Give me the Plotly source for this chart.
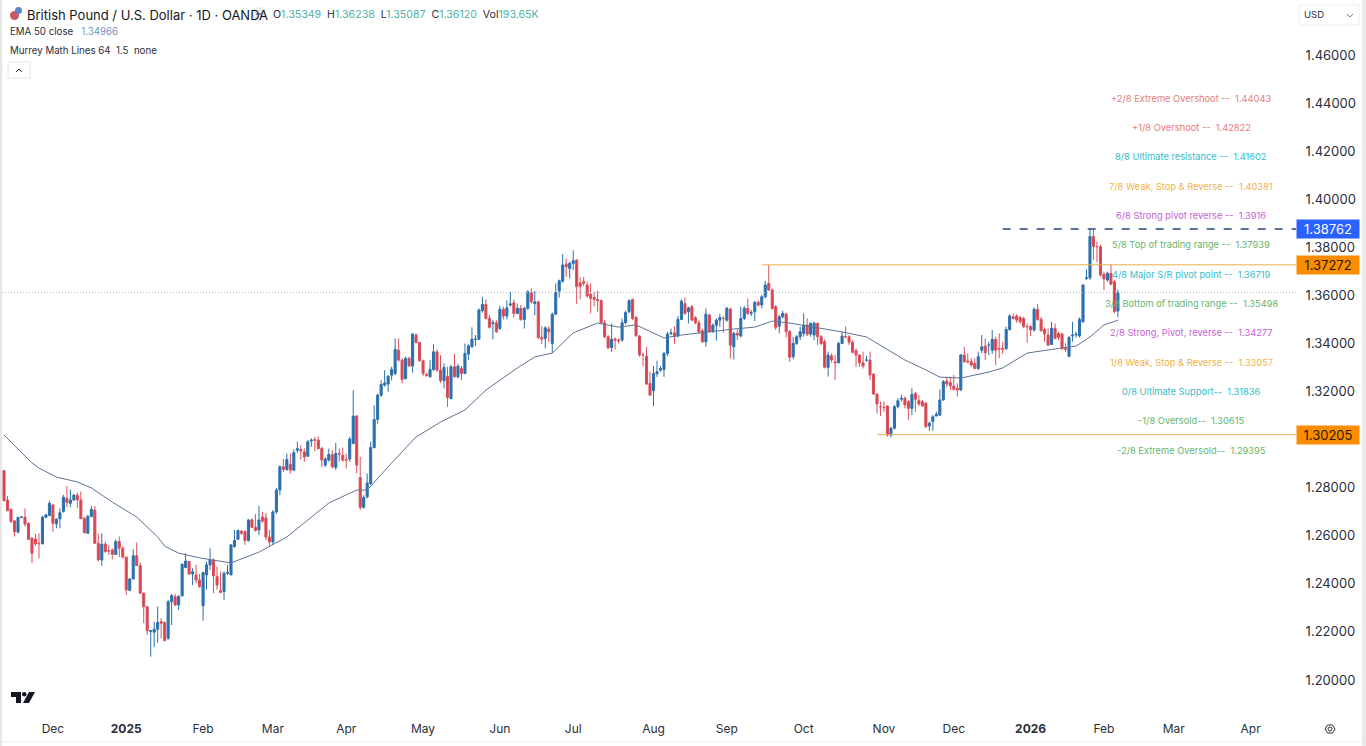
import pandas as pd
import plotly.graph_objects as go

holidays = ["2024-12-25", "2025-01-01", "2025-12-25", "2026-01-01"]
dates = [d for d in pd.bdate_range("2024-11-12", "2026-02-06") if d.strftime("%Y-%m-%d") not in holidays]

opens = [
    1.2871,1.2749,1.2710,1.2662,1.2615,1.2677,1.2677,1.2652,1.2590,1.2587,
    1.2569,1.2566,1.2677,1.2684,1.2728,1.2649,1.2670,1.2701,1.2756,1.2735,
    1.2749,1.2769,1.2749,1.2673,1.2610,1.2680,1.2707,1.2569,1.2499,1.2565,
    1.2538,1.2541,1.2522,1.2576,1.2548,1.2511,1.2372,1.2420,1.2517,1.2476,
    1.2361,1.2305,1.2201,1.2199,1.2211,1.2243,1.2239,1.2174,1.2326,1.2347,
    1.2312,1.2350,1.2468,1.2493,1.2441,1.2437,1.2416,1.2309,1.2437,1.2479,
    1.2499,1.2430,1.2372,1.2368,1.2444,1.2437,1.2555,1.2585,1.2619,1.2617,
    1.2580,1.2666,1.2635,1.2624,1.2678,1.2674,1.2595,1.2574,1.2699,1.2790,
    1.2887,1.2876,1.2897,1.2873,1.2956,1.2959,1.2949,1.2931,1.2994,1.2999,
    1.2998,1.2963,1.2894,1.2915,1.2938,1.2884,1.2942,1.2935,1.2917,1.2919,
    1.2984,1.3098,1.2842,1.2718,1.2762,1.2817,1.2967,1.3084,1.3185,1.3227,
    1.3231,1.3268,1.3275,1.3372,1.3331,1.3254,1.3338,1.3306,1.3435,1.3404,
    1.3328,1.3272,1.3261,1.3292,1.3365,1.3289,1.3245,1.3264,1.3171,1.3303,
    1.3261,1.3296,1.3275,1.3356,1.3386,1.3417,1.3417,1.3536,1.3562,1.3504,
    1.3483,1.3486,1.3462,1.3542,1.3514,1.3560,1.3569,1.3525,1.3546,1.3500,
    1.3546,1.3611,1.3566,1.3573,1.3425,1.3421,1.3460,1.3400,1.3522,1.3618,
    1.3659,1.3730,1.3712,1.3733,1.3747,1.3652,1.3657,1.3643,1.3605,1.3591,
    1.3583,1.3578,1.3486,1.3428,1.3383,1.3419,1.3414,1.3414,1.3486,1.3532,
    1.3583,1.3508,1.3431,1.3352,1.3347,1.3234,1.3203,1.3275,1.3289,1.3292,
    1.3358,1.3442,1.3444,1.3431,1.3500,1.3566,1.3532,1.3553,1.3507,1.3486,
    1.3453,1.3407,1.3518,1.3449,1.3476,1.3497,1.3504,1.3497,1.3543,1.3386,
    1.3442,1.3431,1.3504,1.3546,1.3525,1.3532,1.3571,1.3560,1.3594,1.3650,
    1.3622,1.3553,1.3472,1.3511,1.3522,1.3449,1.3345,1.3400,1.3428,1.3442,
    1.3477,1.3439,1.3435,1.3484,1.3428,1.3407,1.3301,1.3348,1.3324,1.3320,
    1.3400,1.3428,1.3428,1.3405,1.3370,1.3352,1.3320,1.3331,1.3331,1.3272,
    1.3190,1.3137,1.3134,1.3140,1.3019,1.3047,1.3137,1.3168,1.3172,1.3158,
    1.3130,1.3192,1.3162,1.3158,1.3151,1.3057,1.3075,1.3098,1.3102,1.3165,
    1.3244,1.3237,1.3223,1.3213,1.3206,1.3352,1.3327,1.3324,1.3317,1.3296,
    1.3372,1.3389,1.3393,1.3372,1.3417,1.3379,1.3379,1.3379,1.3458,1.3511,
    1.3514,1.3508,1.3504,1.3470,1.3470,1.3456,1.3542,1.3500,1.3458,1.3435,
    1.3396,1.3463,1.3442,1.3439,1.3379,1.3347,1.3431,1.3435,1.3431,1.3490,
    1.3671,1.3673,1.3845,1.3803,1.3803,1.3688,1.3664,1.3692,1.3657,1.3535,
]
highs = [
    1.2874,1.2766,1.2714,1.2666,1.2680,1.2683,1.2714,1.2656,1.2594,1.2608,
    1.2610,1.2683,1.2690,1.2746,1.2733,1.2673,1.2714,1.2770,1.2807,1.2793,
    1.2774,1.2780,1.2784,1.2677,1.2687,1.2724,1.2724,1.2608,1.2610,1.2576,
    1.2562,1.2548,1.2585,1.2597,1.2558,1.2513,1.2423,1.2544,1.2572,1.2488,
    1.2364,1.2308,1.2208,1.2243,1.2305,1.2257,1.2243,1.2333,1.2358,1.2358,
    1.2354,1.2486,1.2527,1.2495,1.2465,1.2479,1.2441,1.2451,1.2493,1.2548,
    1.2506,1.2472,1.2451,1.2451,1.2479,1.2566,1.2624,1.2627,1.2624,1.2624,
    1.2669,1.2673,1.2690,1.2724,1.2699,1.2695,1.2624,1.2707,1.2799,1.2894,
    1.2921,1.2942,1.2942,1.2959,1.2991,1.2977,1.2963,1.2998,1.3005,1.3012,
    1.3012,1.2970,1.2928,1.2963,1.2956,1.2987,1.2963,1.2967,1.2942,1.3012,
    1.3206,1.3102,1.2928,1.2769,1.2859,1.2991,1.3143,1.3192,1.3247,1.3289,
    1.3268,1.3303,1.3421,1.3421,1.3338,1.3345,1.3345,1.3442,1.3442,1.3407,
    1.3333,1.3278,1.3331,1.3397,1.3375,1.3351,1.3317,1.3303,1.3310,1.3356,
    1.3314,1.3306,1.3400,1.3397,1.3467,1.3435,1.3546,1.3594,1.3583,1.3518,
    1.3497,1.3497,1.3557,1.3553,1.3578,1.3615,1.3583,1.3566,1.3560,1.3553,
    1.3622,1.3629,1.3619,1.3578,1.3472,1.3472,1.3472,1.3528,1.3650,1.3666,
    1.3772,1.3754,1.3740,1.3788,1.3750,1.3675,1.3677,1.3657,1.3650,1.3615,
    1.3619,1.3583,1.3497,1.3435,1.3483,1.3425,1.3421,1.3504,1.3536,1.3583,
    1.3587,1.3514,1.3435,1.3361,1.3386,1.3282,1.3306,1.3328,1.3306,1.3365,
    1.3449,1.3462,1.3472,1.3514,1.3583,1.3591,1.3553,1.3560,1.3514,1.3497,
    1.3462,1.3546,1.3525,1.3483,1.3504,1.3522,1.3514,1.3553,1.3548,1.3449,
    1.3458,1.3553,1.3555,1.3587,1.3539,1.3576,1.3580,1.3601,1.3661,1.3726,
    1.3629,1.3560,1.3518,1.3536,1.3528,1.3456,1.3428,1.3435,1.3470,1.3525,
    1.3504,1.3486,1.3491,1.3486,1.3435,1.3417,1.3366,1.3359,1.3352,1.3407,
    1.3449,1.3470,1.3435,1.3414,1.3380,1.3356,1.3366,1.3348,1.3366,1.3276,
    1.3192,1.3158,1.3158,1.3144,1.3054,1.3144,1.3172,1.3186,1.3179,1.3165,
    1.3213,1.3199,1.3186,1.3165,1.3158,1.3075,1.3102,1.3116,1.3209,1.3248,
    1.3262,1.3262,1.3269,1.3234,1.3356,1.3386,1.3359,1.3338,1.3338,1.3366,
    1.3435,1.3421,1.3407,1.3456,1.3428,1.3442,1.3407,1.3470,1.3522,1.3525,
    1.3522,1.3514,1.3511,1.3483,1.3477,1.3550,1.3564,1.3511,1.3467,1.3463,
    1.3490,1.3483,1.3449,1.3445,1.3400,1.3431,1.3490,1.3449,1.3508,1.3647,
    1.3708,1.3875,1.3875,1.3824,1.3810,1.3699,1.3699,1.3729,1.3664,1.3624,
]
lows = [
    1.2742,1.2701,1.2652,1.2597,1.2610,1.2673,1.2638,1.2583,1.2486,1.2558,
    1.2506,1.2566,1.2673,1.2683,1.2617,1.2631,1.2631,1.2696,1.2719,1.2719,
    1.2745,1.2714,1.2669,1.2608,1.2608,1.2677,1.2566,1.2493,1.2475,1.2530,
    1.2520,1.2502,1.2520,1.2511,1.2506,1.2354,1.2372,1.2419,1.2475,1.2358,
    1.2236,1.2187,1.2097,1.2136,1.2155,1.2174,1.2160,1.2167,1.2229,1.2308,
    1.2291,1.2347,1.2465,1.2437,1.2395,1.2402,1.2384,1.2247,1.2375,1.2458,
    1.2361,1.2375,1.2361,1.2333,1.2437,1.2437,1.2551,1.2583,1.2603,1.2562,
    1.2576,1.2631,1.2617,1.2603,1.2653,1.2582,1.2553,1.2562,1.2691,1.2769,
    1.2866,1.2870,1.2859,1.2870,1.2945,1.2917,1.2908,1.2928,1.2970,1.2953,
    1.2959,1.2887,1.2887,1.2908,1.2880,1.2873,1.2908,1.2908,1.2880,1.2908,
    1.2981,1.2859,1.2707,1.2713,1.2755,1.2811,1.2963,1.3067,1.3178,1.3220,
    1.3199,1.3247,1.3268,1.3324,1.3234,1.3250,1.3303,1.3278,1.3400,1.3324,
    1.3264,1.3261,1.3259,1.3286,1.3282,1.3236,1.3213,1.3136,1.3167,1.3259,
    1.3254,1.3247,1.3272,1.3331,1.3383,1.3389,1.3414,1.3528,1.3500,1.3462,
    1.3417,1.3444,1.3456,1.3500,1.3500,1.3553,1.3508,1.3522,1.3494,1.3462,
    1.3539,1.3566,1.3518,1.3417,1.3397,1.3379,1.3407,1.3361,1.3518,1.3591,
    1.3652,1.3677,1.3670,1.3705,1.3564,1.3583,1.3639,1.3591,1.3525,1.3555,
    1.3532,1.3480,1.3421,1.3375,1.3365,1.3375,1.3400,1.3407,1.3480,1.3525,
    1.3497,1.3428,1.3345,1.3306,1.3227,1.3181,1.3139,1.3261,1.3282,1.3261,
    1.3347,1.3435,1.3397,1.3425,1.3497,1.3518,1.3483,1.3494,1.3480,1.3442,
    1.3403,1.3386,1.3444,1.3444,1.3411,1.3469,1.3444,1.3490,1.3338,1.3333,
    1.3414,1.3425,1.3497,1.3518,1.3514,1.3493,1.3553,1.3546,1.3587,1.3619,
    1.3539,1.3456,1.3442,1.3504,1.3425,1.3324,1.3334,1.3394,1.3414,1.3428,
    1.3431,1.3428,1.3414,1.3394,1.3394,1.3296,1.3262,1.3320,1.3248,1.3317,
    1.3398,1.3421,1.3394,1.3359,1.3303,1.3303,1.3296,1.3324,1.3248,1.3185,
    1.3109,1.3098,1.3116,1.3012,1.3009,1.3043,1.3130,1.3158,1.3130,1.3081,
    1.3102,1.3116,1.3140,1.3137,1.3047,1.3037,1.3037,1.3098,1.3098,1.3162,
    1.3217,1.3206,1.3203,1.3179,1.3203,1.3320,1.3317,1.3303,1.3292,1.3289,
    1.3359,1.3331,1.3352,1.3356,1.3310,1.3338,1.3356,1.3372,1.3453,1.3500,
    1.3486,1.3483,1.3463,1.3403,1.3431,1.3449,1.3495,1.3449,1.3407,1.3389,
    1.3393,1.3417,1.3414,1.3373,1.3366,1.3342,1.3407,1.3425,1.3425,1.3486,
    1.3664,1.3664,1.3747,1.3738,1.3678,1.3622,1.3657,1.3643,1.3525,1.3509,
]
closes = [
    1.2746,1.2705,1.2659,1.2617,1.2676,1.2678,1.2649,1.2585,1.2527,1.2566,
    1.2567,1.2677,1.2687,1.2735,1.2652,1.2669,1.2696,1.2760,1.2738,1.2749,
    1.2769,1.2749,1.2671,1.2613,1.2680,1.2710,1.2569,1.2499,1.2565,1.2534,
    1.2537,1.2523,1.2576,1.2548,1.2511,1.2375,1.2420,1.2517,1.2476,1.2361,
    1.2305,1.2205,1.2205,1.2211,1.2239,1.2236,1.2164,1.2326,1.2351,1.2312,
    1.2347,1.2481,1.2495,1.2441,1.2450,1.2416,1.2388,1.2447,1.2479,1.2499,
    1.2433,1.2395,1.2364,1.2444,1.2447,1.2562,1.2580,1.2622,1.2610,1.2580,
    1.2666,1.2635,1.2622,1.2666,1.2661,1.2595,1.2574,1.2699,1.2790,1.2887,
    1.2876,1.2917,1.2873,1.2946,1.2962,1.2953,1.2928,1.2991,1.2998,1.2998,
    1.2963,1.2915,1.2919,1.2938,1.2887,1.2942,1.2940,1.2915,1.2915,1.3002,
    1.3098,1.2894,1.2718,1.2759,1.2820,1.2967,1.3084,1.3185,1.3229,1.3236,
    1.3264,1.3292,1.3375,1.3331,1.3250,1.3338,1.3306,1.3439,1.3404,1.3328,
    1.3275,1.3268,1.3292,1.3365,1.3289,1.3245,1.3300,1.3175,1.3303,1.3261,
    1.3306,1.3275,1.3358,1.3390,1.3418,1.3418,1.3539,1.3562,1.3504,1.3467,
    1.3486,1.3449,1.3542,1.3514,1.3548,1.3564,1.3525,1.3546,1.3500,1.3546,
    1.3615,1.3573,1.3573,1.3425,1.3418,1.3465,1.3449,1.3522,1.3612,1.3661,
    1.3726,1.3719,1.3733,1.3744,1.3636,1.3638,1.3650,1.3597,1.3587,1.3583,
    1.3578,1.3486,1.3428,1.3382,1.3417,1.3414,1.3411,1.3486,1.3529,1.3578,
    1.3504,1.3432,1.3352,1.3352,1.3231,1.3185,1.3275,1.3282,1.3296,1.3358,
    1.3439,1.3444,1.3428,1.3500,1.3576,1.3525,1.3548,1.3497,1.3486,1.3449,
    1.3407,1.3522,1.3449,1.3476,1.3497,1.3508,1.3504,1.3546,1.3393,1.3442,
    1.3435,1.3504,1.3546,1.3525,1.3528,1.3571,1.3560,1.3594,1.3643,1.3622,
    1.3546,1.3467,1.3511,1.3525,1.3449,1.3342,1.3400,1.3428,1.3449,1.3477,
    1.3438,1.3484,1.3484,1.3428,1.3400,1.3301,1.3352,1.3331,1.3320,1.3400,
    1.3431,1.3428,1.3405,1.3363,1.3352,1.3320,1.3306,1.3331,1.3269,1.3190,
    1.3148,1.3137,1.3133,1.3019,1.3047,1.3137,1.3162,1.3172,1.3144,1.3130,
    1.3188,1.3168,1.3148,1.3140,1.3054,1.3068,1.3095,1.3106,1.3165,1.3241,
    1.3231,1.3223,1.3209,1.3206,1.3352,1.3324,1.3324,1.3310,1.3296,1.3345,
    1.3386,1.3361,1.3393,1.3417,1.3372,1.3377,1.3375,1.3458,1.3514,1.3504,
    1.3497,1.3490,1.3470,1.3470,1.3456,1.3542,1.3500,1.3453,1.3439,1.3393,
    1.3463,1.3421,1.3425,1.3379,1.3375,1.3425,1.3435,1.3438,1.3500,1.3643,
    1.3673,1.3845,1.3803,1.3803,1.3685,1.3668,1.3692,1.3646,1.3533,1.3612,
]

# ema every few bars
ema_bars = [0,8,10,15,21,25,31,38,44,46,50,56,65,73,81,87,93,98,101,104,111,118,125,132,138,147,152,157,
            163,170,176,181,189,194,201,209,215,220,225,240,247,253,258,264,268,274,282,286,293,299,303,307,311,315,319]
ema_values = [1.3019,1.2903,1.2882,1.2844,1.2824,1.2799,1.2740,1.2678,1.2595,1.2557,1.2528,1.2508,1.2487,1.2532,
              1.2595,1.2666,1.2736,1.2770,1.2790,1.2790,1.2903,1.3011,1.3073,1.3123,1.3206,1.3298,1.3344,1.3360,
              1.3444,1.3485,1.3468,1.3477,1.3423,1.3435,1.3448,1.3460,1.3468,1.3493,1.3485,1.3448,1.3427,1.3373,
              1.3331,1.3290,1.3260,1.3256,1.3281,1.3298,1.3360,1.3373,1.3381,1.3389,1.3427,1.3477,1.34966]

level_prices = [1.44043,1.42822,1.41602,1.40381,1.39160,1.37939,1.36719,1.35498,1.34277,1.33057,1.31836,1.30615,1.29395]
level_labels = [
    "+2/8 Extreme Overshoot --  1.44043", "+1/8 Overshoot --  1.42822", "8/8 Ultimate resistance --  1.41602",
    "7/8 Weak, Stop & Reverse --  1.40381", "6/8 Strong pivot reverse --  1.3916", "5/8 Top of trading range --  1.37939",
    "4/8 Major S/R pivot point --  1.36719", "3/8 Bottom of trading range --  1.35498", "2/8 Strong, Pivot, reverse --  1.34277",
    "1/8 Weak, Stop & Reverse --  1.33057", "0/8 Ultimate Support--  1.31836", "-1/8 Oversold--  1.30615", "-2/8 Extreme Oversold--  1.29395",
]
level_colors = ["#e57c7c","#e57c7c","#35bccb","#f0b14a","#c65fd6","#68b56c","#35bccb","#68b56c","#c65fd6","#f0b14a","#35bccb","#68b56c","#68b56c"]

tick_dates = ["2024-12-02","2025-01-02","2025-02-03","2025-03-03","2025-04-01","2025-05-01","2025-06-02","2025-07-01",
              "2025-08-01","2025-09-01","2025-10-01","2025-11-03","2025-12-01","2026-01-02","2026-02-02","2026-03-02","2026-04-01"]
tick_labels = ["Dec","<b>2025</b>","Feb","Mar","Apr","May","Jun","Jul","Aug","Sep","Oct","Nov","Dec","<b>2026</b>","Feb","Mar","Apr"]
# 1.30 sits under the 1.30205 badge in the picture
price_ticks = [1.46,1.44,1.42,1.40,1.38,1.36,1.34,1.32,1.28,1.26,1.24,1.22,1.20]

last_close = 1.3612
peak_line = 1.38762
upper_line = 1.37272
lower_line = 1.30205

W, H = 1366, 746
L, R, T, B = 2, 70, 0, 30
FONT = "Inter, Roboto, sans-serif"
x_end = "2026-04-20"


def fx(px):
    return (px - L) / (W - L - R)


def fy(py):
    return 1 - (py - T) / (H - T - B)


def label(px, py, text, size=11, color="#2a2e39", anchor="left", **kw):
    return dict(x=fx(px), y=fy(py), xref="paper", yref="paper", text=text, showarrow=False,
                xanchor=anchor, yanchor="middle", font=dict(size=size, color=color, family=FONT), **kw)


fig = go.Figure()
fig.add_trace(go.Candlestick(
    x=dates, open=opens, high=highs, low=lows, close=closes,
    increasing=dict(line=dict(color="#2c70ab", width=1), fillcolor="#2b6fb3"),
    decreasing=dict(line=dict(color="#d9505c", width=1), fillcolor="#d8404d"),
    hoverinfo="skip",
))
fig.add_trace(go.Scatter(x=[dates[i] for i in ema_bars], y=ema_values, mode="lines",
                         line=dict(color="#5d7396", width=1), hoverinfo="skip"))

shapes = [
    dict(type="line", xref="x domain", yref="y", x0=0, x1=1, y0=last_close, y1=last_close,
         line=dict(color="#a9c6c2", width=1, dash="1px,2px")),
    dict(type="line", xref="x", yref="y", x0=dates[217], x1=x_end, y0=upper_line, y1=upper_line,
         line=dict(color="#e9b04c", width=1)),
    dict(type="line", xref="x", yref="y", x0=dates[250], x1=x_end, y0=lower_line, y1=lower_line,
         line=dict(color="#e9b04c", width=1)),
    dict(type="line", xref="x", yref="y", x0=dates[286], x1=x_end, y0=peak_line, y1=peak_line,
         line=dict(color="#24477f", width=1.5, dash="8px,9px")),
    # window edges
    dict(type="rect", xref="paper", yref="paper", x0=fx(0), x1=fx(2), y0=fy(746), y1=fy(0),
         fillcolor="#e6e6e6", line_width=0, layer="below"),
    dict(type="rect", xref="paper", yref="paper", x0=fx(1362), x1=fx(1366), y0=fy(746), y1=fy(0),
         fillcolor="#e9e9e9", line_width=0),
    dict(type="line", xref="paper", yref="paper", x0=fx(2), x1=fx(1362), y0=fy(742), y1=fy(742),
         line=dict(color="#ececec", width=1)),
    # flag icon
    dict(type="circle", xref="paper", yref="paper", x0=fx(10), x1=fx(19), y0=fy(20), y1=fy(11),
         fillcolor="#c9586a", line_width=0),
    dict(type="circle", xref="paper", yref="paper", x0=fx(15), x1=fx(22), y0=fy(14), y1=fy(7),
         fillcolor="#5b86c4", line_width=0),
    # eye pill
    dict(type="circle", xref="paper", yref="paper", x0=fx(252), x1=fx(266), y0=fy(21), y1=fy(7),
         fillcolor="#ececec", line_width=0),
    dict(type="line", xref="paper", yref="paper", x0=fx(256), x1=fx(262), y0=fy(14), y1=fy(14),
         line=dict(color="#787b86", width=1.5)),
    # collapse button
    dict(type="rect", xref="paper", yref="paper", x0=fx(8), x1=fx(30), y0=fy(78), y1=fy(62),
         line=dict(color="#e4e4e4", width=1), fillcolor="white"),
    dict(type="path", xref="paper", yref="paper", line=dict(color="#2a2e39", width=1),
         path=f"M {fx(16)} {fy(72)} L {fx(19)} {fy(69)} L {fx(22)} {fy(72)}"),
    # currency button
    dict(type="rect", xref="paper", yref="paper", x0=fx(1299), x1=fx(1359), y0=fy(25), y1=fy(5),
         line=dict(color="#ececec", width=1), fillcolor="white"),
    dict(type="path", xref="paper", yref="paper", line=dict(color="#787b86", width=1),
         path=f"M {fx(1347)} {fy(14)} L {fx(1350)} {fy(17)} L {fx(1353)} {fy(14)}"),
    # logo
    dict(type="path", xref="paper", yref="paper", fillcolor="#131722", line_width=0,
         path=f"M {fx(11)} {fy(692)} L {fx(21)} {fy(692)} L {fx(21)} {fy(703)} L {fx(16)} {fy(703)} L {fx(16)} {fy(697)} L {fx(11)} {fy(697)} Z"),
    dict(type="circle", xref="paper", yref="paper", fillcolor="#131722", line_width=0,
         x0=fx(22), x1=fx(26.5), y0=fy(696.5), y1=fy(692)),
    dict(type="path", xref="paper", yref="paper", fillcolor="#131722", line_width=0,
         path=f"M {fx(29)} {fy(692)} L {fx(35)} {fy(692)} L {fx(29)} {fy(703)} L {fx(23)} {fy(703)} Z"),
    # settings icon
    dict(type="path", xref="paper", yref="paper", line=dict(color="#2a2e39", width=1),
         path=f"M {fx(1325)} {fy(729)} L {fx(1327.5)} {fy(725)} L {fx(1332.5)} {fy(725)} L {fx(1335)} {fy(729)} L {fx(1332.5)} {fy(733)} L {fx(1327.5)} {fy(733)} Z"),
    dict(type="circle", xref="paper", yref="paper", line=dict(color="#2a2e39", width=1),
         x0=fx(1328), x1=fx(1332), y0=fy(731), y1=fy(727)),
]

notes = [
    label(25, 15, "British Pound / U.S. Dollar · 1D · OANDA", size=13, color="#131722"),
    label(271, 15, "O<span style='color:#4fb0a8'>1.35349</span>  H<span style='color:#4fb0a8'>1.36238</span>  "
                   "L<span style='color:#4fb0a8'>1.35087</span>  C<span style='color:#4fb0a8'>1.36120</span>  "
                   "Vol<span style='color:#4fb0a8'>193.65K</span>", size=10.6),
    label(8, 32, "EMA 50 close  \u00a0<span style='color:#6f94c8'>1.34966</span>", size=9.7),
    label(8, 51, "Murrey Math Lines 64  1.5  none", size=9.7),
    label(1302, 15, "USD", size=9.5),
]
for price, text, color in zip(level_prices, level_labels, level_colors):
    notes.append(dict(x=dates[-1] + pd.Timedelta(days=31), y=price, xref="x", yref="y", yshift=4,
                      text=text.replace("  ", "\u00a0\u00a0"), showarrow=False, xanchor="center", yanchor="middle",
                      font=dict(size=9.3, color=color, family=FONT)))
for price, bg, fg in [(peak_line, "#2962ff", "white"), (upper_line, "#fb8c00", "#2a1a00"), (lower_line, "#fb8c00", "#2a1a00")]:
    notes.append(dict(x=fx(1328), y=price, xref="paper", yref="y", text=f"{price:.5f}", showarrow=False,
                      xanchor="center", yanchor="middle", width=60, height=16, bgcolor=bg, borderpad=1,
                      font=dict(size=13, color=fg, family=FONT)))

fig.update_layout(
    width=W, height=H, margin=dict(l=L, r=R, t=T, b=B, autoexpand=False),
    paper_bgcolor="white", plot_bgcolor="white", showlegend=False, boxgap=0.15,
    font=dict(family=FONT, color="#2a2e39"),
    shapes=shapes, annotations=notes,
    xaxis=dict(type="date", range=["2024-11-11 10:00", x_end], rangeslider=dict(visible=False),
               rangebreaks=[dict(bounds=["sat", "mon"]), dict(values=holidays)],
               tickmode="array", tickvals=tick_dates, ticktext=tick_labels, tickangle=0,
               showgrid=False, zeroline=False, showline=False, ticks="outside", ticklen=2,
               tickcolor="white", tickfont=dict(size=12, color="#2a2e39", family=FONT)),
    yaxis=dict(side="right", range=[1.18502, 1.48288], tickmode="array", tickvals=price_ticks,
               tickformat=".5f", showgrid=False, zeroline=False, showline=False, ticks="outside",
               ticklen=6, tickcolor="white", tickfont=dict(size=13, color="#2a2e39", family=FONT)),
)

fig.write_html("out.html", config=dict(displayModeBar=False), post_script="document.body.style.margin='0';")
